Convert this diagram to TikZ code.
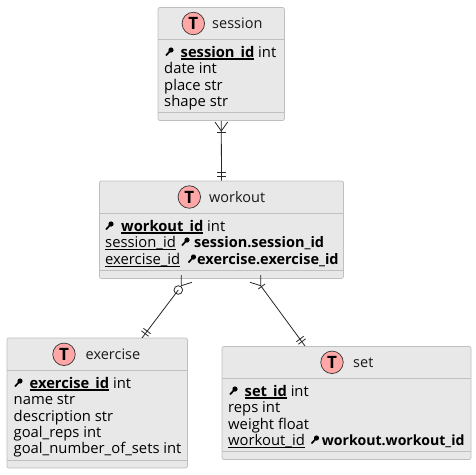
\documentclass[tikz,border=0pt]{standalone}
\usepackage{fontspec}
\setmainfont{Open Sans}
\tikzset{
  every picture/.style={x=1pt,y=-1pt},
  tbl/.style={draw=black!25,fill=black!9,line width=0.7pt,rounded corners=2pt,inner sep=0pt},
  sep/.style={draw=black!25,line width=0.7pt},
  rel/.style={draw=black!85,line width=0.8pt},
  badge/.style={circle,draw=black!80,fill=red!35!white,line width=0.7pt,minimum size=22.5pt,inner sep=0pt,font=\fontsize{17}{17}\selectfont\bfseries},
  ttl/.style={font=\fontsize{14.5}{16}\selectfont,anchor=base west,inner sep=0pt,text=black!90},
  row/.style={font=\fontsize{14.8}{16}\selectfont,anchor=base west,inner sep=0pt,text=black},
  brow/.style={font=\fontsize{14.5}{16}\selectfont\bfseries,anchor=base west,inner sep=0pt,text=black},
}
\newcommand{\keyic}[2]{\fill[black] (#1+2,#2-2) circle (2.6pt); \draw[black,line width=1.7pt] (#1+2,#2-2) -- (#1-3,#2+3.5);}
\newsavebox{\ulbox}
\newcommand{\ul}[1]{\sbox{\ulbox}{#1}\rlap{\rule[-2.4pt]{\wd\ulbox}{0.8pt}}\usebox{\ulbox}}
\newcommand{\ulb}[1]{\sbox{\ulbox}{\fontsize{14.7}{16}\selectfont\bfseries #1}\rlap{\rule[-2.6pt]{\wd\ulbox}{1.2pt}}\usebox{\ulbox}}
\begin{document}
\begin{tikzpicture}
\useasboundingbox (0,0) rectangle (476,474);
% tables
\node[tbl,minimum width=126.5pt,minimum height=113pt] (session) at (221.25,64) {};
\node[tbl,minimum width=244pt,minimum height=97.5pt] (workout) at (221.5,229.75) {};
\node[tbl,minimum width=180.5pt,minimum height=130pt] (exercise) at (97.25,403) {};
\node[tbl,minimum width=249pt,minimum height=113pt] (setb) at (346.5,403) {};
\draw[sep] (158,39.5) -- (284.5,39.5) (158,112) -- (284.5,112);
\draw[sep] (99.5,213) -- (343.5,213) (99.5,270) -- (343.5,270);
\draw[sep] (7,370.5) -- (187.5,370.5) (7,460) -- (187.5,460);
\draw[sep] (222,378.5) -- (471,378.5) (222,451) -- (471,451);
% titles
\node[badge] (b1) at (193.3,23.5) {T};
\node[ttl] (t1) at (212,28.5) {session};
\node[badge] (b2) at (189.3,197) {T};
\node[ttl] (t2) at (209,202) {workout};
\node[badge] (b3) at (64,354.3) {T};
\node[ttl] (t3) at (85.5,359.5) {exercise};
\node[badge] (b4) at (332,362.3) {T};
\node[ttl] (t4) at (353,367.5) {set};
% session rows
\keyic{169}{52}
\node[row] (s1) at (180.5,57) {\ulb{session\_id} int};
\node[row] (s2) at (164,73) {date int};
\node[row] (s3) at (164,90) {place str};
\node[row] (s4) at (164,106) {shape str};
% workout rows
\keyic{109}{226}
\node[row] (w1) at (121,231) {\ulb{workout\_id} int};
\node[row] (w2) at (105,247) {\ul{session\_id}};
\keyic{185}{242}
\node[brow] (w2b) at (194,247) {session.session\_id};
\node[row] (w3) at (105,264) {\ul{exercise\_id}};
\keyic{191.5}{259}
\node[brow] (w3b) at (197,264) {exercise.exercise\_id};
% exercise rows
\keyic{18}{383}
\node[row] (e1) at (29.5,388) {\ulb{exercise\_id} int};
\node[row] (e2) at (13.5,404) {name str};
\node[row] (e3) at (13.5,421) {description str};
\node[row] (e4) at (13.5,437) {goal\_reps int};
\node[row] (e5) at (13.5,453) {goal\_number\_of\_sets int};
% set rows
\keyic{233}{391}
\node[row] (x1) at (244.5,396) {\ulb{set\_id} int};
\node[row] (x2) at (228,412) {reps int};
\node[row] (x3) at (228,429) {weight float};
\node[row] (x4) at (228,445) {\ul{workout\_id}};
\keyic{314.5}{440}
\node[brow,font=\fontsize{14.1}{16}\selectfont\bfseries] (x4b) at (321.7,445) {workout.workout\_id};
% connectors
\draw[rel] (session.south) -- (workout.north);
\draw[rel] (215,122) -- (221.3,131) -- (227.7,122);
\draw[rel] (217,132.3) -- (226,132.3);
\draw[rel] (217,172.3) -- (226,172.3) (217,176) -- (226,176);
\coordinate (c1) at (181.3,275);
\coordinate (c2) at (181.3,285.7);
\coordinate (c3) at (142,338);
\draw[rel] (c1) -- (c2) -- (192,282.3);
\draw[rel] (178.3,290) -- (c3);
\draw[rel] (178.3,290) circle (4.3pt);
\draw[rel] (143.4,328.3) -- (150.6,333.7) (141.4,330.8) -- (148.6,336.2);
\coordinate (d1) at (260.7,275);
\coordinate (d2) at (260.7,285.7);
\coordinate (d3) at (305,346);
\draw[rel] (d1) -- (d2) (250,282.3) -- (d2) -- (d3);
\draw[rel] (258.3,289) -- (265,284);
\draw[rel] (296.4,341.7) -- (303.6,336.3) (298.4,344.2) -- (305.6,338.8);
\end{tikzpicture}
\end{document}
